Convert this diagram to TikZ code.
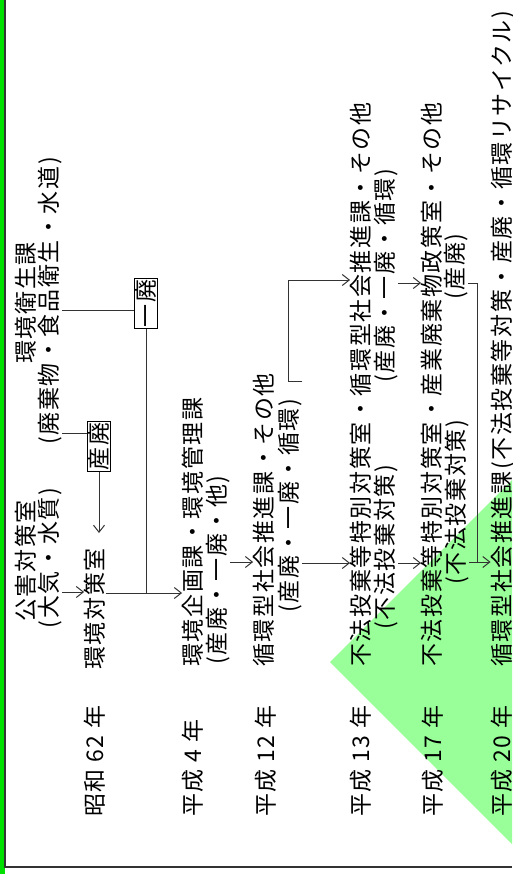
\documentclass[tikz,border=0pt]{standalone}
\usepackage{fontspec}
\setmainfont{Noto Sans CJK JP}[LetterSpace=7]
\usetikzlibrary{arrows.meta,calc}
\definecolor{lightgrn}{HTML}{99FF99}
\definecolor{barG}{HTML}{00E000}
\definecolor{lineC}{HTML}{333333}
\begin{document}
\begin{tikzpicture}[x=1pt,y=-1pt,
  lbl/.style={rotate=90,inner sep=0pt,anchor=base west,font=\fontsize{23}{27}\selectfont},
  clbl/.style={lbl,anchor=base},
  boxed/.style={rotate=90,draw=black,line width=1.6pt,inner sep=1pt,font=\fontsize{23}{27}\selectfont},
  conn/.style={draw=lineC,line width=1pt},
  arr/.style={conn,-{Straight Barb[length=7pt,width=11pt]}}]
\useasboundingbox (0,0) rectangle (512,874);
% frame
\fill[barG] (0,0) rectangle (4.5,874);
\draw[lineC,line width=1.2pt] (5,0) -- (5,867) -- (512,867);
% green triangle
\fill[lightgrn] (330,662) -- (512,480) -- (512,844) -- cycle;
% years (x = ink centre + 8.7)
\node[lbl] (y62) at (103.7,817) {昭和 62 年};
\node[lbl] (y4)  at (201.7,817) {平成 4 年};
\node[lbl] (y12) at (274.7,817) {平成 12 年};
\node[lbl] (y13) at (369.7,817) {平成 13 年};
\node[lbl] (y17) at (441.7,817) {平成 17 年};
\node[lbl] (y20) at (510.2,817) {平成 20 年};
% organisations
\node[clbl] (a1) at (34.7,561) {公害対策室};
\node[clbl] (a2) at (57.7,558) {(大気・水質)};
\node[clbl] (a3) at (34.7,303) {環境衛生課};
\node[clbl] (a4) at (57.7,301) {(廃棄物・食品衛生・水道)};
\node[lbl] (b1) at (103.7,670) {環境対策室};
\node[lbl] (c1) at (201.7,667) {環境企画課・環境管理課};
\node[lbl] (c2) at (225.7,665) {(産廃・一廃・他)};
\node[lbl] (d1) at (272.7,667) {循環型社会推進課・その他};
\node[lbl] (d2) at (297.7,613) {(産廃・一廃・循環)};
\node[lbl] (e1) at (369.7,667) {不法投棄等特別対策室・循環型社会推進課・その他};
\node[lbl] (e2) at (393.7,630) {(不法投棄対策)};
\node[lbl] (e3) at (393.7,383) {(産廃・一廃・循環)};
\node[lbl] (f1) at (440.7,667) {不法投棄等特別対策室・産業廃棄物政策室・その他};
\node[lbl] (f2) at (464.7,585) {(不法投棄対策)};
\node[lbl] (f3) at (463.7,300) {(産廃)};
\node[lbl] (g1) at (510.2,667) {循環型社会推進課(不法投棄等対策・産廃・循環リサイクル)};
\node[boxed] (bx1) at (99,446.5) {産廃};
\node[boxed] (bx2) at (146,303.5) {一廃};
% helper levels
\coordinate (r592) at (0,592);
\coordinate (r593) at (0,593);
\coordinate (r433) at (0,433);
\coordinate (r310) at (0,310);
\coordinate (r533) at (0,533);
\coordinate (r562) at (0,562);
\coordinate (r563) at (0,563);
\coordinate (r283) at (0,283);
\coordinate (r280) at (0,280);
\coordinate (r381) at (0,381);
\coordinate (x288) at (288,0);
\coordinate (x477) at (477,0);
% connectors
\draw[arr] (a2.south |- r592) -- (b1.north |- r592);
\draw[conn] (a4.south |- r433) -- (bx1.north |- r433);
\draw[arr] (bx1.west) -- (bx1.west |- r533);
\draw[conn] (a4.south |- r310) -- (bx2.north |- r310);
\draw[conn] (bx2.west) -- (bx2.west |- r593);
\draw[arr] (b1.south |- r593) -- (c1.north |- r593);
\draw[arr] (c2.south |- r562) -- (d1.north |- r562);
\draw[arr] (d2.south |- r563) -- (e1.north |- r563);
\draw[arr] (d2.south |- r381) -- (x288 |- r381) -- (x288 |- r280) -- (e1.north |- r280);
\draw[arr] (e2.south |- r563) -- (f1.north |- r563);
\draw[arr] (e3.south |- r283) -- (f1.north |- r283);
\draw[arr] (f2.south |- r562) -- (g1.north |- r562);
\draw[conn] (f3.south |- r283) -- (x477 |- r283) -- (x477 |- r562);
\end{tikzpicture}
\end{document}
